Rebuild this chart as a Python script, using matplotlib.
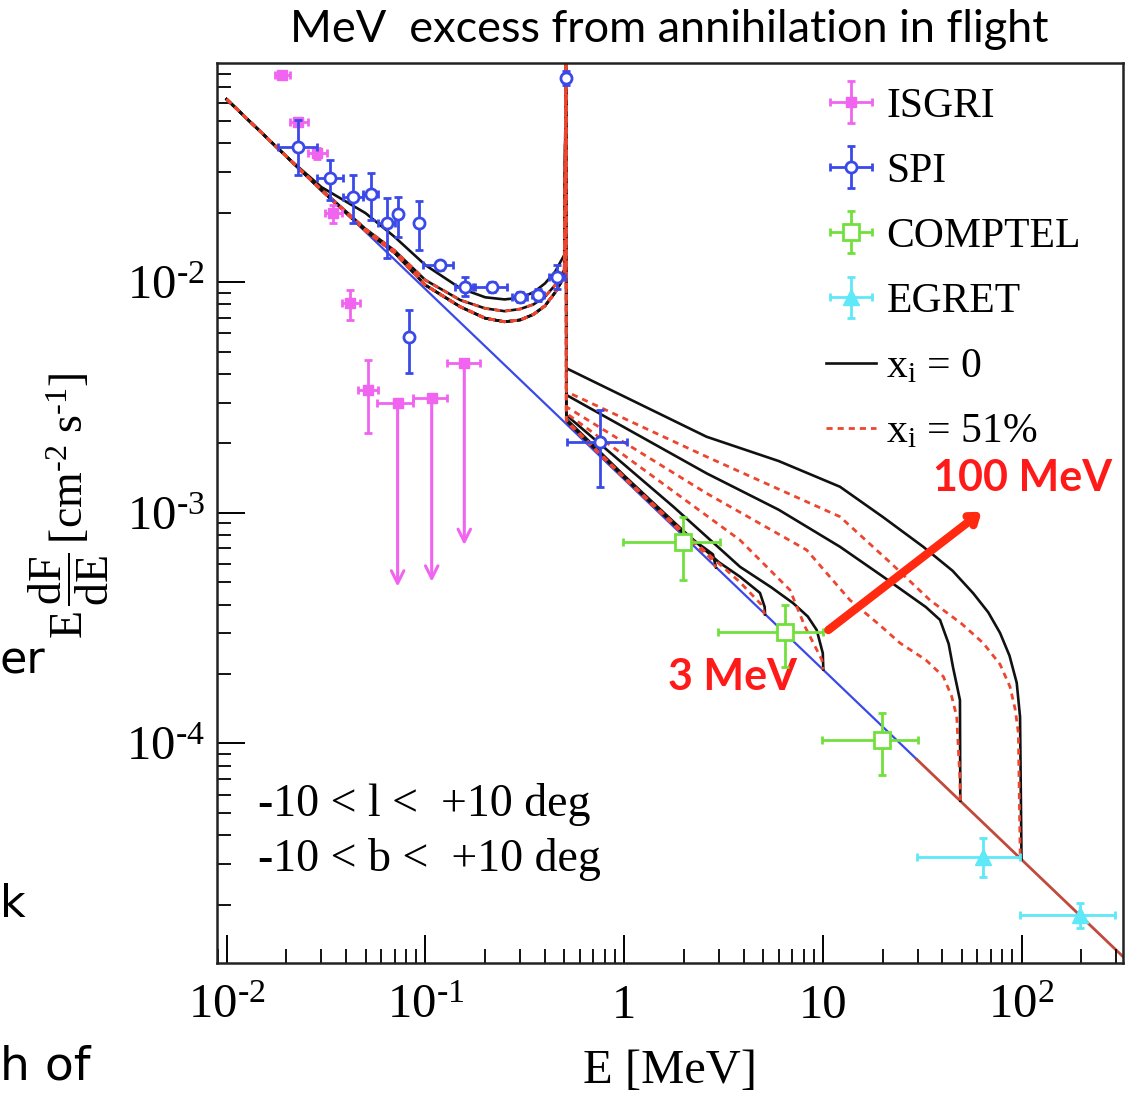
import matplotlib
matplotlib.use("Agg")
import matplotlib.pyplot as plt
import numpy as np
from matplotlib.ticker import FixedLocator, FixedFormatter, LogLocator, NullFormatter

plt.rcParams["font.family"] = ["Liberation Serif", "DejaVu Serif"]
plt.rcParams["mathtext.fontset"] = "custom"
plt.rcParams["mathtext.rm"] = "Liberation Serif"
plt.rcParams["mathtext.it"] = "Liberation Serif:italic"
plt.rcParams["mathtext.bf"] = "Liberation Serif:bold"

# ---- data (E in MeV, E dF/dE in cm^-2 s^-1) ----
# ISGRI points
isgri_E = [0.0189, 0.0229, 0.0284, 0.0344, 0.0417, 0.0516]
isgri_F = [0.0789, 0.0495, 0.0361, 0.01985, 0.00809, 0.00340]
isgri_Elo = [0.0175, 0.02083, 0.02574, 0.03124, 0.03792, 0.04595]
isgri_Ehi = [0.02083, 0.02574, 0.03187, 0.03792, 0.04688, 0.0579]
isgri_Flo = [0.0778, 0.0479, 0.0340, 0.01796, 0.00684, 0.00221]
isgri_Fhi = [0.0800, 0.0511, 0.0383, 0.02157, 0.00923, 0.00459]
# ISGRI upper limits
ul_E = [0.0725, 0.1076, 0.157]
ul_F = [2.98e-3, 3.13e-3, 4.47e-3]
ul_Elo = [0.0569, 0.0869, 0.128]
ul_Ehi = [0.0869, 0.1289, 0.1883]
ul_end = [4.78e-4, 5.02e-4, 7.24e-4]

# SPI
spi_E = [0.0229, 0.0331, 0.0434, 0.0532, 0.0639, 0.0731, 0.0932, 0.0830,
         0.1184, 0.1582, 0.2157, 0.2993, 0.370, 0.458, 0.511, 0.756]
spi_F = [0.0386, 0.0282, 0.0234, 0.0242, 0.01796, 0.01965, 0.01796, 5.76e-3,
         0.01185, 0.00954, 0.00954, 0.00864, 0.00878, 0.01054, 0.0769, 2.03e-3]
spi_Elo = [0.01818, 0.02837, 0.0386, 0.0487, 0.0579, 0.0720, 0.0915, 0.0815,
           0.0976, 0.141, 0.1742, 0.2719, 0.346, 0.418, 0.508, 0.514]
spi_Ehi = [0.02837, 0.0386, 0.0487, 0.0579, 0.0703, 0.0742, 0.0950, 0.0845,
           0.1381, 0.1777, 0.2565, 0.3234, 0.395, 0.502, 0.514, 1.031]
spi_Flo = [0.0291, 0.02267, 0.01796, 0.01857, 0.01267, 0.01572, 0.01376, 4.02e-3,
           0.0113, 0.0087, 0.0091, 0.0082, 0.0083, 0.0093, 0.0718, 1.296e-3]
spi_Fhi = [0.0504, 0.0338, 0.0291, 0.0296, 0.02306, 0.0234, 0.0224, 7.56e-3,
           0.0124, 0.0105, 0.0100, 0.0091, 0.0093, 0.0119, 0.0824, 2.79e-3]

# COMPTEL
comptel_E = [1.986, 6.45, 19.8]
comptel_F = [7.48e-4, 3.05e-4, 1.034e-4]
comptel_Elo = [0.991, 2.98, 9.87]
comptel_Ehi = [3.04, 10.06, 30.2]
comptel_Flo = [5.11e-4, 2.15e-4, 7.3e-5]
comptel_Fhi = [9.61e-4, 3.98e-4, 1.35e-4]

# EGRET
egret_E = [64.2, 197.0]
egret_F = [3.23e-5, 1.80e-5]
egret_Elo = [29.7, 98.3]
egret_Ehi = [98.3, 295.5]
egret_Flo = [2.64e-5, 1.58e-5]
egret_Fhi = [3.88e-5, 2.03e-5]

# continuum (blue) and its high-energy continuation
base_E = [0.0179, 29.7]
base_F = [0.0385, 8.53e-5]
tail_E = [29.7, 324.0]
tail_F = [8.53e-5, 1.19e-5]

# model curves, below 511 keV
low_E = [0.01, 0.02, 0.03, 0.05, 0.07, 0.1, 0.15, 0.2, 0.25, 0.3, 0.35, 0.4, 0.45, 0.5]
low_top = [0.062, 0.0350, 0.0258, 0.0199, 0.0157, 0.01185, 0.0094, 0.00859,
           0.00841, 0.00855, 0.00902, 0.00987, 0.0111, 0.0131]
low_mid = [0.062, 0.0350, 0.0252, 0.0170, 0.0137, 0.0102, 0.00835, 0.00769,
           0.00748, 0.00764, 0.0080, 0.00864, 0.00971, 0.01128]
low_bot = [0.062, 0.0350, 0.0250, 0.0167, 0.0134, 0.0097, 0.00781, 0.00697,
           0.00673, 0.00685, 0.00724, 0.00789, 0.00902, 0.01054]
line_E = [0.511]
line_F = [0.12]

# model curves, above 511 keV (x_i = 0)
b100_E = [0.512, 2.60, 6.0, 12.2, 20.0, 32.0, 45.0, 57.2, 68.0, 78.0, 87.0, 94.6, 98.3, 100.0]
b100_F = [4.23e-3, 2.135e-3, 1.675e-3, 1.296e-3, 9.6e-4, 7.12e-4, 5.6e-4, 4.47e-4, 3.7e-4,
          3.01e-4, 2.4e-4, 1.83e-4, 1.305e-4, 3.14e-5]
b50_E = [0.512, 2.60, 6.0, 12.2, 20.0, 26.4, 33.0, 38.9, 43.0, 45.2, 47.5, 49.0, 49.2]
b50_F = [3.24e-3, 1.482e-3, 1.03e-3, 7.12e-4, 5.3e-4, 4.47e-4, 3.9e-4, 3.43e-4, 2.7e-4,
         2.14e-4, 1.75e-4, 1.54e-4, 5.64e-5]
b10_E = [0.512, 1.77, 3.83, 5.5, 7.10, 8.4, 9.32, 10.0, 10.06]
b10_F = [2.65e-3, 1.062e-3, 5.83e-4, 4.75e-4, 4.05e-4, 3.55e-4, 3.10e-4, 2.46e-4, 2.09e-4]
b5_E = [0.512, 1.0, 2.0, 3.0, 3.83, 4.83, 5.1, 5.12]
b5_F = [2.55e-3, 1.45e-3, 8.3e-4, 6.1e-4, 5.28e-4, 4.49e-4, 3.9e-4, 3.62e-4]
b3_E = [0.512, 1.0, 2.0, 2.5, 2.8, 2.9]
b3_F = [2.50e-3, 1.42e-3, 8.1e-4, 7.1e-4, 6.6e-4, 5.79e-4]
# (x_i = 51%)
r100_E = [0.512, 2.60, 12.2, 22.0, 34.6, 50.0, 64.2, 78.0, 87.5, 93.0, 96.4, 98.5]
r100_F = [3.35e-3, 1.749e-3, 9.61e-4, 6.05e-4, 4.18e-4, 3.3e-4, 2.72e-4, 2.2e-4,
          1.76e-4, 1.4e-4, 1.106e-4, 3.2e-5]
r50_E = [0.512, 2.60, 8.30, 13.7, 19.0, 24.5, 33.0, 40.4, 44.5, 47.2, 49.0, 49.2]
r50_F = [2.88e-3, 1.214e-3, 6.89e-4, 4.18e-4, 3.3e-4, 2.72e-4, 2.3e-4, 1.95e-4,
         1.6e-4, 1.305e-4, 6.94e-5, 5.64e-5]
r10_E = [0.512, 1.20, 3.83, 6.84, 8.13, 9.9, 10.0]
r10_F = [2.70e-3, 1.582e-3, 7.61e-4, 4.62e-4, 3.21e-4, 2.30e-4, 2.09e-4]
r5_E = [0.512, 1.0, 2.0, 3.83, 4.9, 5.1]
r5_F = [2.52e-3, 1.43e-3, 8.2e-4, 5.0e-4, 4.0e-4, 3.63e-4]
r3_E = [0.512, 1.0, 2.0, 2.7, 2.9]
r3_F = [2.48e-3, 1.41e-3, 8.0e-4, 6.4e-4, 5.79e-4]

xtick_vals = [1e-2, 1e-1, 1, 10, 1e2]
xtick_labels = [r"$10^{\text{-}2}$", r"$10^{\text{-}1}$", "1", "10", r"$10^{2}$"]
ytick_vals = [1e-4, 1e-3, 1e-2]
ytick_labels = [r"$10^{\text{-}4}$", r"$10^{\text{-}3}$", r"$10^{\text{-}2}$"]

C_ISGRI = "#f064f0"
C_SPI = "#3a4ae8"
C_COMPTEL = "#72e03c"
C_EGRET = "#5ee8f8"
C_RED = "#ec4630"


def _xerr(E, lo, hi):
    return [np.array(E) - np.array(lo), np.array(hi) - np.array(E)]


def _curve(low, hiE, hiF):
    E = np.concatenate([low_E, line_E, hiE])
    F = np.concatenate([low, line_F, hiF])
    return E, F


fig = plt.figure(figsize=(11.35, 10.97), dpi=100)
ax = fig.add_axes([0.1916, 0.1222, 0.7978, 0.8206])
ax.set_xscale("log")
ax.set_yscale("log")
ax.set_xlim(0.00899, 324)
ax.set_ylim(1.117e-5, 0.0893)

# continuum
ax.plot(base_E, base_F, color=C_SPI, lw=1.6, zorder=1.5)
ax.plot(tail_E, tail_F, color="#c04a3c", lw=2.0, zorder=1.5)

# model curves
black = [(low_top, b100_E, b100_F), (low_mid, b50_E, b50_F), (low_bot, b10_E, b10_F),
         (low_bot, b5_E, b5_F), (low_bot, b3_E, b3_F)]
red = [(low_mid, r100_E, r100_F), (low_bot, r50_E, r50_F), (low_bot, r10_E, r10_F),
       (low_bot, r5_E, r5_F), (low_bot, r3_E, r3_F)]
h_black = None
for low, e, f in black:
    E, F = _curve(low, e, f)
    (h,) = ax.plot(E, F, color="#111111", lw=1.9, zorder=2)
    h_black = h_black or h
h_red = None
for low, e, f in red:
    E, F = _curve(low, e, f)
    (h,) = ax.plot(E, F, color=C_RED, lw=2.0, ls=(0, (2.2, 1.8)), zorder=2.1)
    h_red = h_red or h

# data sets
h_isgri = ax.errorbar(isgri_E, isgri_F, xerr=_xerr(isgri_E, isgri_Elo, isgri_Ehi),
                      yerr=_xerr(isgri_F, isgri_Flo, isgri_Fhi), fmt="s", ms=6.5,
                      color=C_ISGRI, mec=C_ISGRI, elinewidth=2, capsize=3, capthick=2, zorder=4)
ax.errorbar(ul_E, ul_F, xerr=_xerr(ul_E, ul_Elo, ul_Ehi), fmt="s", ms=6.5,
            color=C_ISGRI, elinewidth=2, capsize=3, capthick=2, zorder=4)
for e, f, fe in zip(ul_E, ul_F, ul_end):
    ax.annotate("", xy=(e, fe), xytext=(e, f),
                arrowprops=dict(arrowstyle="->,head_length=0.9,head_width=0.45",
                                color=C_ISGRI, lw=2.2, shrinkA=0, shrinkB=0), zorder=4)

h_spi = ax.errorbar(spi_E, spi_F, xerr=_xerr(spi_E, spi_Elo, spi_Ehi),
                    yerr=_xerr(spi_F, spi_Flo, spi_Fhi), fmt="o", ms=8, mfc="white",
                    mec=C_SPI, mew=2, color=C_SPI, elinewidth=2, capsize=3, capthick=2, zorder=5)
h_comptel = ax.errorbar(comptel_E, comptel_F, xerr=_xerr(comptel_E, comptel_Elo, comptel_Ehi),
                        yerr=_xerr(comptel_F, comptel_Flo, comptel_Fhi), fmt="s", ms=12,
                        mfc="white", mec=C_COMPTEL, mew=2, color=C_COMPTEL,
                        elinewidth=2, capsize=3, capthick=2, zorder=5)
h_egret = ax.errorbar(egret_E, egret_F, xerr=_xerr(egret_E, egret_Elo, egret_Ehi),
                      yerr=_xerr(egret_F, egret_Flo, egret_Fhi), fmt="^", ms=11,
                      color=C_EGRET, mec=C_EGRET, elinewidth=2, capsize=3, capthick=2, zorder=5)

# axes styling
ax.xaxis.set_major_locator(FixedLocator(xtick_vals))
ax.xaxis.set_major_formatter(FixedFormatter(xtick_labels))
ax.yaxis.set_major_locator(FixedLocator(ytick_vals))
ax.yaxis.set_major_formatter(FixedFormatter(ytick_labels))
ax.xaxis.set_minor_locator(LogLocator(base=10, subs=np.arange(2, 10), numticks=20))
ax.yaxis.set_minor_locator(LogLocator(base=10, subs=np.arange(2, 10), numticks=20))
ax.xaxis.set_minor_formatter(NullFormatter())
ax.yaxis.set_minor_formatter(NullFormatter())
ax.tick_params(which="major", direction="in", length=20, width=1.4, labelsize=35,
               top=False, right=False)
ax.tick_params(axis="x", which="major", pad=15)
ax.tick_params(axis="y", which="major", pad=9)
ax.tick_params(which="minor", direction="in", length=10, width=1.3, top=False, right=False)
for s in ax.spines.values():
    s.set_linewidth(1.8)
    s.set_color("#222222")

ax.set_xlabel("E [MeV]", fontsize=35, labelpad=15)
ax.set_ylabel(r"$\mathrm{E}\,\dfrac{\mathrm{dF}}{\mathrm{dE}}\,[\mathrm{cm}^{\text{-}2}\ \mathrm{s}^{\text{-}1}]$",
              fontsize=33)
ax.yaxis.set_label_coords(-0.118, 0.508)

leg = ax.legend([h_isgri, h_spi, h_comptel, h_egret, h_black, h_red],
                ["ISGRI", "SPI", "COMPTEL", "EGRET", r"$\mathrm{x_i}$ = 0", r"$\mathrm{x_i}$ = 51%"],
                loc="upper left", bbox_to_anchor=(0.672, 0.973), frameon=False, fontsize=30,
                handlelength=1.2, handletextpad=0.25, labelspacing=0.64,
                borderpad=0, borderaxespad=0)

# annotations
ax.text(0.0447, 0.1755, "-10 < l <  +10 deg", transform=ax.transAxes, fontsize=33,
        ha="left", va="center")
ax.text(0.0447, 0.1144, "-10 < b <  +10 deg", transform=ax.transAxes, fontsize=33,
        ha="left", va="center")
ax.text(0.889, 0.539, "100 MeV", transform=ax.transAxes, fontsize=31, color="#ff1a1a",
        fontweight="bold", family="Lato", ha="center", va="center")
ax.text(0.569, 0.318, "3 MeV", transform=ax.transAxes, fontsize=31, color="#ff1a1a",
        fontweight="bold", family="Lato", ha="center", va="center")
ax.annotate("", xy=(63.0, 1.01e-3), xytext=(10.66, 3.10e-4),
            arrowprops=dict(arrowstyle="->,head_length=0.55,head_width=0.4",
                            color="#ff2a10", lw=6, shrinkA=0, shrinkB=0), zorder=6)

fig.text(0.590, 0.9727, "MeV  excess from annihilation in flight", family="Lato",
         fontsize=32.5, ha="center", va="center")

# slide text peeking in at the left edge
fig.text(0.0, 0.3865, "er", family="DejaVu Sans", fontsize=32, ha="left", va="baseline")
fig.text(0.0, 0.164, "k", family="DejaVu Sans", fontsize=32, ha="left", va="baseline")
fig.text(0.0, 0.0155, "h of", family="DejaVu Sans", fontsize=34, ha="left", va="baseline")

fig.savefig("out.png", dpi=100)
